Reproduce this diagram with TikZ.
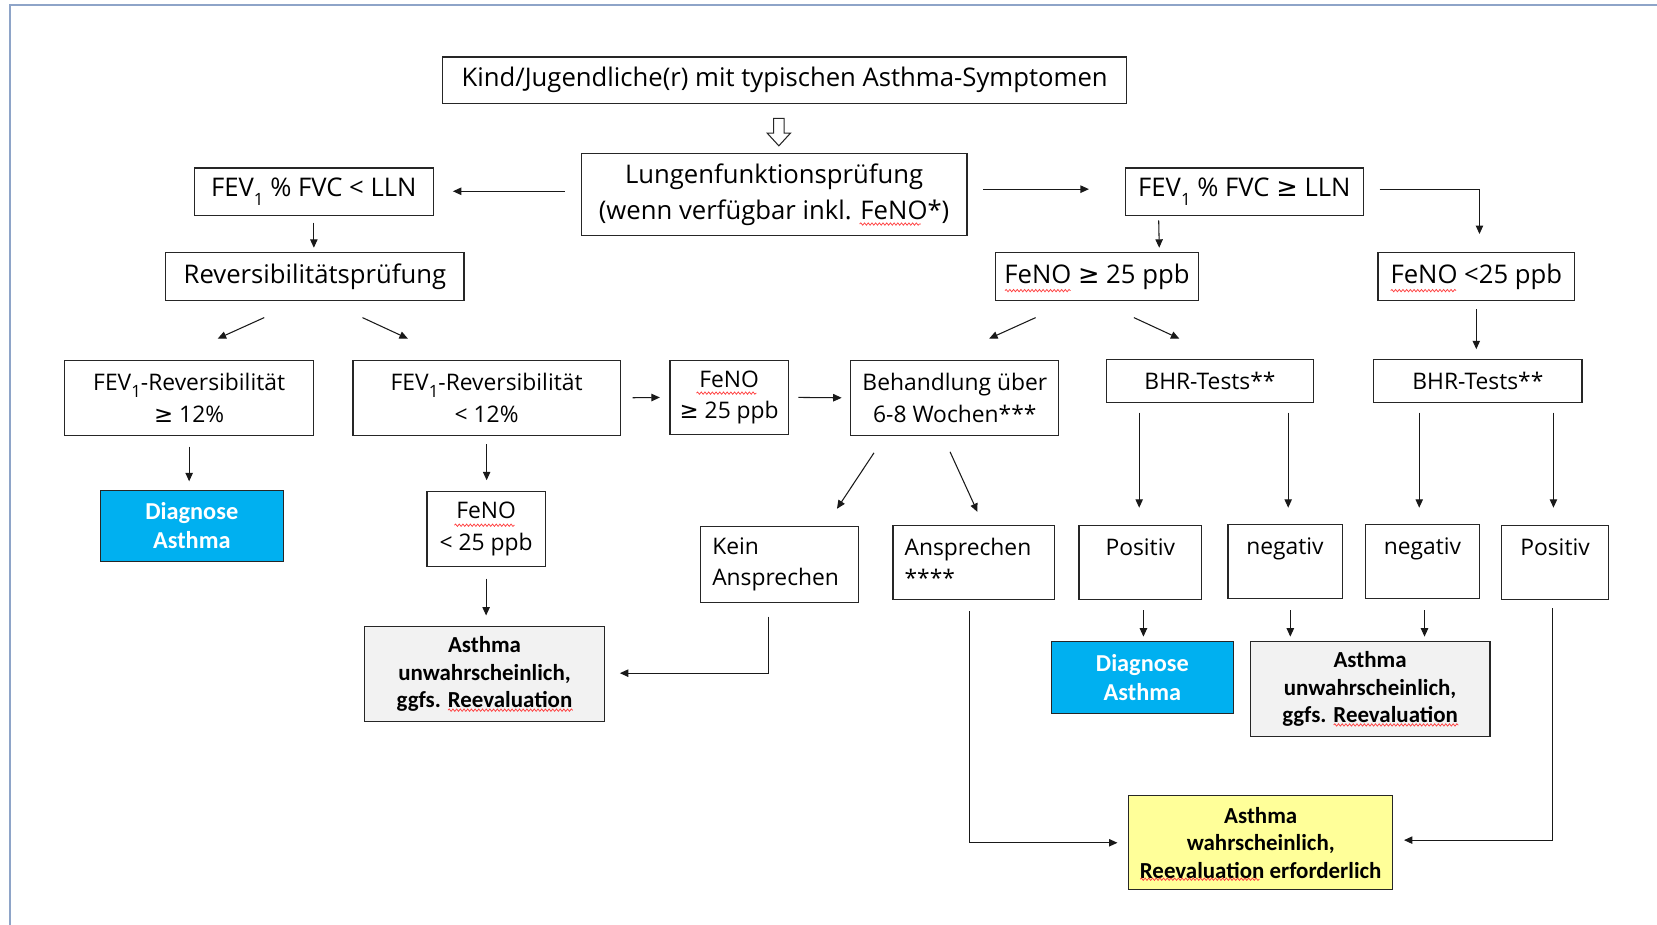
\documentclass[tikz,border=0pt]{standalone}
\usepackage{fontspec}
\setmainfont{Open Sans}
\newfontfamily\calib{Carlito}
\newfontfamily\symfont{DejaVu Sans}
\usetikzlibrary{arrows.meta,calc,decorations.pathmorphing}
\newcommand\FEV{FEV\raisebox{-.6ex}{\fontsize{16}{16}\selectfont 1}}
\newcommand\gez{{\symfont ≥}}
\definecolor{framec}{HTML}{8EA4C8}
\definecolor{diagc}{HTML}{00B0F0}
\definecolor{unwc}{HTML}{F2F2F2}
\definecolor{wahrc}{HTML}{FFFF99}

\begin{document}
\begin{tikzpicture}[x=1pt,y=-1pt,
  box/.style={draw=black!85, line width=1.1, inner sep=0, align=center, font=\fontsize{24.3}{34}\selectfont},
  small/.style={font=\fontsize{21.6}{30}\selectfont},
  result/.style={draw=black!85, line width=1.1, inner sep=0, align=center, font=\calib\bfseries\fontsize{21.7}{26}\selectfont},
  diag/.style={result, fill=diagc, text=white, font=\calib\bfseries\fontsize{23}{28}\selectfont},
  unw/.style={result, fill=unwc},
  wahr/.style={result, fill=wahrc},
  wave/.style={draw=red!75, line width=0.7, decorate, decoration={snake, amplitude=1.1, segment length=3.5}},
  arr/.style={draw=black!90, line width=1, -{Triangle[length=8,width=7]}}]
\useasboundingbox (0,0) rectangle (1568,875.3);
\draw[framec, line width=2] (9.5,875.3) -- (9.5,5) -- (1568,5);

% top
\node[box, minimum width=647, minimum height=44] (start) at (742.5,76) {Kind/Jugendliche(r) mit typischen Asthma-Symptomen};
\draw[black!85, line width=1, fill=white] (732,112) -- (742,112) -- (742,126) -- (748,126) -- (737,138) -- (726,126) -- (732,126) -- cycle;
\node[box, minimum width=365, minimum height=78] (lufu) at (732.5,184) {Lungenfunktionsprüfung\\(wenn verfügbar inkl. FeNO*)};
\node[box, minimum width=226, minimum height=45] (lowfev) at (297,181.5) {\FEV\ \% FVC < LLN};
\node[box, minimum width=225, minimum height=45] (normfev) at (1177.5,181.5) {\FEV\ \% FVC \gez\ LLN};
\node[box, minimum width=282, minimum height=45] (rev) at (298,261.5) {Reversibilitätsprüfung};
\node[box, minimum width=192, minimum height=45] (fenohi) at (1038,261.5) {FeNO \gez\ 25 ppb};
\node[box, minimum width=186, minimum height=45] (fenolo) at (1397,261.5) {FeNO <25 ppb};

% second row
\node[box, small, minimum width=236, minimum height=71] (revhi) at (179,376.5) {\FEV-Reversibilität\\\gez\ 12\%};
\node[box, small, minimum width=253, minimum height=71] (revlo) at (460.5,376.5) {\FEV-Reversibilität\\< 12\%};
\node[box, small, minimum width=112, minimum height=70] (fenoa) at (690,376) {FeNO\\\gez\ 25 ppb};
\node[box, small, minimum width=197, minimum height=71] (treat) at (903.5,376.5) {Behandlung über\\6-8 Wochen***};
\node[box, small, minimum width=196, minimum height=41] (bhra) at (1145,360.5) {BHR-Tests**};
\node[box, small, minimum width=197, minimum height=41] (bhrb) at (1398.5,360.5) {BHR-Tests**};

% third row
\node[diag, minimum width=173, minimum height=67] (diaga) at (181.5,497.5) {Diagnose\\Asthma};
\node[box, small, minimum width=112, minimum height=71] (fenob) at (460,500.5) {FeNO\\< 25 ppb};
\node[box, small, align=left, text width=127, minimum width=149, minimum height=72] (kein) at (737.5,534) {Kein\\Ansprechen};
\node[box, small, align=left, text width=131, minimum width=153, minimum height=70] (ansp) at (921.5,532) {Ansprechen\\{}****};
\node[box, small, minimum width=116, text height=29, text depth=41] (posa) at (1079,532) {Positiv};
\node[box, small, minimum width=108, text height=29, text depth=41] (nega) at (1216,531) {negativ};
\node[box, small, minimum width=108, text height=29, text depth=41] (negb) at (1346,531) {negativ};
\node[box, small, minimum width=101, text height=29, text depth=41] (posb) at (1471.5,532) {Positiv};

% results
\node[unw, minimum width=227, minimum height=90] (unwa) at (458.5,638) {Asthma\\unwahrscheinlich,\\ggfs. Reevaluation};
\node[diag, minimum width=172, minimum height=68] (diagb) at (1081,641) {Diagnose\\Asthma};
\node[unw, minimum width=227, minimum height=90] (unwb) at (1296.5,652) {Asthma\\unwahrscheinlich,\\ggfs. Reevaluation};
\node[wahr, minimum width=250, minimum height=89] (wahr) at (1193,797.5) {Asthma\\wahrscheinlich,\\Reevaluation erforderlich};

% spell check waves
\draw[wave] ($(lufu.center)+(81,28)$) -- ++(58,0);
\draw[wave] ($(fenohi.center)+(-87,13.5)$) -- ++(62,0);
\draw[wave] ($(fenolo.center)+(-81,13.5)$) -- ++(62,0);
\draw[wave] ($(fenoa.center)+(-31,-4)$) -- ++(57,0);
\draw[wave] ($(fenob.center)+(-30,-3.5)$) -- ++(57,0);
\draw[wave] ($(unwa.center)+(-34.5,34)$) -- ++(118,0);
\draw[wave] ($(unwb.center)+(-34.5,34)$) -- ++(118,0);
\draw[wave] ($(wahr.center)+(-114,34.5)$) -- ++(113,0);

% arrows
\draw[arr] ($(lufu.west)+(-15,-3)$) -- ($(lowfev.east)+(18,-0.5)$);
\draw[arr] ($(lufu.east)+(15,-5)$) -- ($(normfev.west)+(-34,-2.5)$);
\draw[arr] ($(normfev.east)+(15,-2.5)$) -| ($(fenolo.north)+(3,-17)$);
\draw[arr, shorten <=6, shorten >=4] (lowfev.south) -- (lowfev.south |- rev.north);
\draw[arr] ($(normfev.south west)+(32,4)$) -- ($(fenohi.north)+(59,-4)$);
\draw[arr] ($(rev.south)+(-48,16)$) -- ($(revhi.north)+(27,-20)$);
\draw[arr] ($(rev.south)+(45,16)$) -- ($(revlo.north)+(-74.5,-20)$);
\draw[arr] ($(fenohi.south)+(-58,16)$) -- ($(treat.north)+(32.5,-20)$);
\draw[arr] ($(fenohi.south)+(35,16)$) -- ($(bhra.north)+(-29,-19)$);
\draw[arr, shorten <=8, shorten >=9] (fenolo.south) -- (fenolo.south |- bhrb.north);
\draw[arr, shorten <=11, shorten >=9] (revlo.east) -- (fenoa.west);
\draw[arr, shorten <=9, shorten >=8] (fenoa.east) -- (treat.west);
\draw[arr, shorten <=10, shorten >=8] (revhi.south) -- (revhi.south |- diaga.north);
\draw[arr, shorten <=8, shorten >=10] (revlo.south) -- (revlo.south |- fenob.north);
\draw[arr] ($(treat.south)+(-76.5,16)$) -- ($(kein.north)+(54.5,-16)$);
\draw[arr] ($(treat.south)+(-4.5,15)$) -- ($(ansp.north)+(3.5,-12)$);
\draw[arr] ($(bhra.south)+(-67,9)$) -- ($(posa.north)+(-1,-16)$);
\draw[arr] ($(bhra.south)+(74,9)$) -- ($(nega.north)+(3,-15)$);
\draw[arr] ($(bhrb.south)+(-55.5,9)$) -- ($(negb.north)+(-3,-15)$);
\draw[arr] ($(bhrb.south)+(71.5,9)$) -- ($(posb.north)+(-1.5,-16)$);
\draw[arr, shorten <=11, shorten >=10] (fenob.south) -- (fenob.south |- unwa.north);
\draw[arr] ($(kein.south)+(-10.5,13)$) |- ($(unwa.east)+(14,-1)$);
\draw[arr] ($(posa.south)+(3,10)$) -- ($(diagb.north)+(1,-4)$);
\draw[arr] ($(nega.south)+(5,11)$) -- ($(unwb.north)+(-75.5,-4)$);
\draw[arr] ($(negb.south)+(2,11)$) -- ($(unwb.north)+(51.5,-4)$);
\draw[arr] ($(ansp.south)+(-4.5,11)$) |- ($(wahr.west)+(-10,0)$);
\draw[arr] ($(posb.south)+(-2.5,8)$) |- ($(wahr.east)+(10,-2.5)$);
\end{tikzpicture}
\end{document}
